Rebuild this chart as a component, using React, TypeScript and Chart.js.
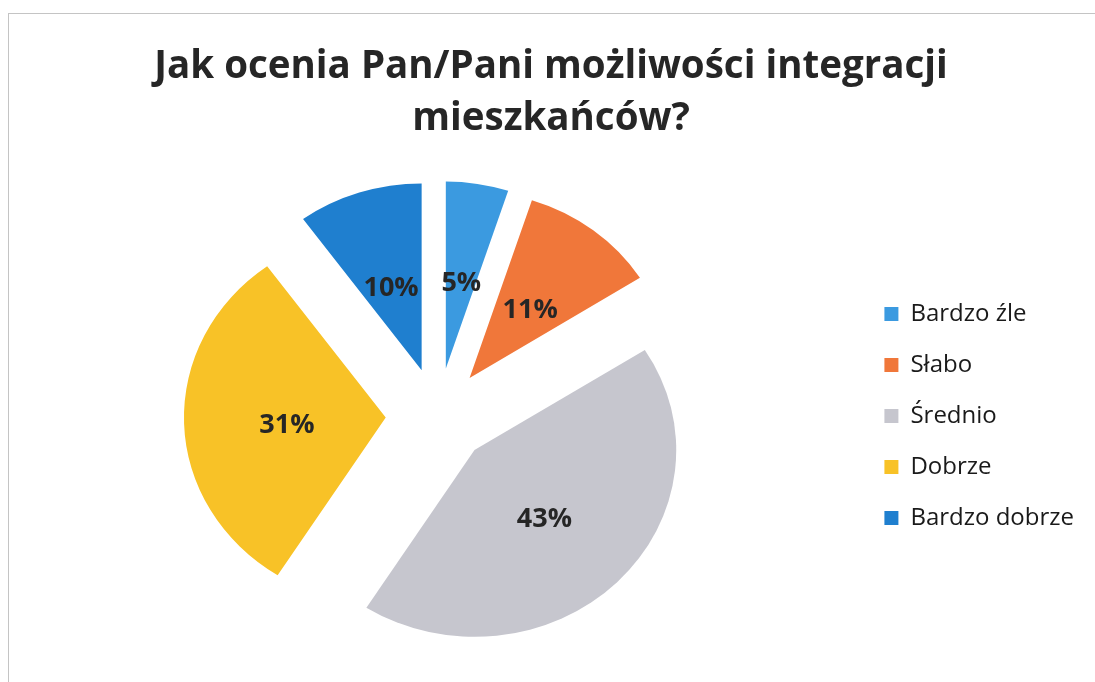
import React, { useEffect, useRef } from "react";
import { Chart, registerables } from "chart.js";

Chart.register(...registerables);

const titleLines = ["Jak ocenia Pan/Pani możliwości integracji", "mieszkańców?"];
const categories = ["Bardzo źle", "Słabo", "Średnio", "Dobrze", "Bardzo dobrze"];
const percentValues = [5, 11, 43, 31, 10];
const sliceColors = ["#3b9ae0", "#f0773a", "#c6c6ce", "#f8c227", "#1f7fcf"];

const FONT = "'Open Sans', Lato, sans-serif";
const EXPLODE = 50;
const SCALE_X = 1.04;
const SCALE_Y = 0.963;
const LABEL_SIZE = 27;

// draws the library's own arc elements, each pulled out along its mid-angle
const explodeSlices = {
  id: "explodeSlices",
  beforeDatasetDraw(chart: any, args: any) {
    const meta = chart.getDatasetMeta(args.index);
    const ctx = chart.ctx;
    meta.data.forEach((arc: any) => {
      const p = arc.getProps(["x", "y", "startAngle", "endAngle"], true);
      const mid = (p.startAngle + p.endAngle) / 2;
      ctx.save();
      ctx.translate(p.x, p.y);
      ctx.scale(SCALE_X, SCALE_Y);
      ctx.translate(Math.cos(mid) * EXPLODE, Math.sin(mid) * EXPLODE);
      ctx.translate(-p.x, -p.y);
      arc.draw(ctx);
      ctx.restore();
    });
    return false;
  },
};

const percentLabels = {
  id: "percentLabels",
  afterDatasetsDraw(chart: any) {
    const { ctx } = chart;
    const meta = chart.getDatasetMeta(0);
    ctx.save();
    ctx.font = `bold ${LABEL_SIZE}px ${FONT}`;
    ctx.fillStyle = "#262626";
    ctx.textAlign = "center";
    ctx.textBaseline = "alphabetic";
    meta.data.forEach((arc: any, i: number) => {
      const p = arc.getProps(["x", "y", "startAngle", "endAngle", "outerRadius"], true);
      const mid = (p.startAngle + p.endAngle) / 2;
      const d = EXPLODE + 0.49 * p.outerRadius;
      ctx.fillText(
        `${percentValues[i]}%`,
        p.x + Math.cos(mid) * d * SCALE_X,
        p.y + Math.sin(mid) * d * SCALE_Y + LABEL_SIZE * 0.47
      );
    });
    ctx.restore();
  },
};

export default function App() {
  const ref = useRef<HTMLCanvasElement | null>(null);
  useEffect(() => {
    if (!ref.current) return;
    const chart = new Chart(ref.current, {
      type: "pie",
      data: {
        labels: categories,
        datasets: [
          {
            data: percentValues,
            backgroundColor: sliceColors,
            borderWidth: 0,
            radius: 194,
          } as any,
        ],
      },
      options: {
        animation: false,
        responsive: true,
        maintainAspectRatio: false,
        layout: { padding: { left: 18, right: 11, top: 0, bottom: 0 } },
        plugins: {
          title: {
            display: true,
            text: titleLines,
            color: "#262626",
            font: { family: FONT, size: 38.5, weight: "bold", lineHeight: 52 / 38.5 },
            padding: { top: 41, bottom: 5 },
          },
          legend: {
            position: "right",
            fullSize: false,
            labels: {
              color: "#1a1a1a",
              font: { family: FONT, size: 24 },
              boxWidth: 14,
              boxHeight: 14,
              padding: 27,
            },
          },
          tooltip: { enabled: false },
        },
      },
      plugins: [explodeSlices, percentLabels],
    });
    return () => chart.destroy();
  }, []);

  return (
    <div style={{ position: "absolute", left: 0, top: 0, width: 1095, height: 682, background: "#fff" }}>
      <div
        style={{
          position: "absolute",
          left: 8,
          top: 13,
          right: 0,
          bottom: 0,
          borderTop: "1px solid #c4c4c4",
          borderLeft: "1px solid #c4c4c4",
        }}
      />
      <canvas ref={ref} style={{ position: "absolute", left: 0, top: 0 }} />
    </div>
  );
}
